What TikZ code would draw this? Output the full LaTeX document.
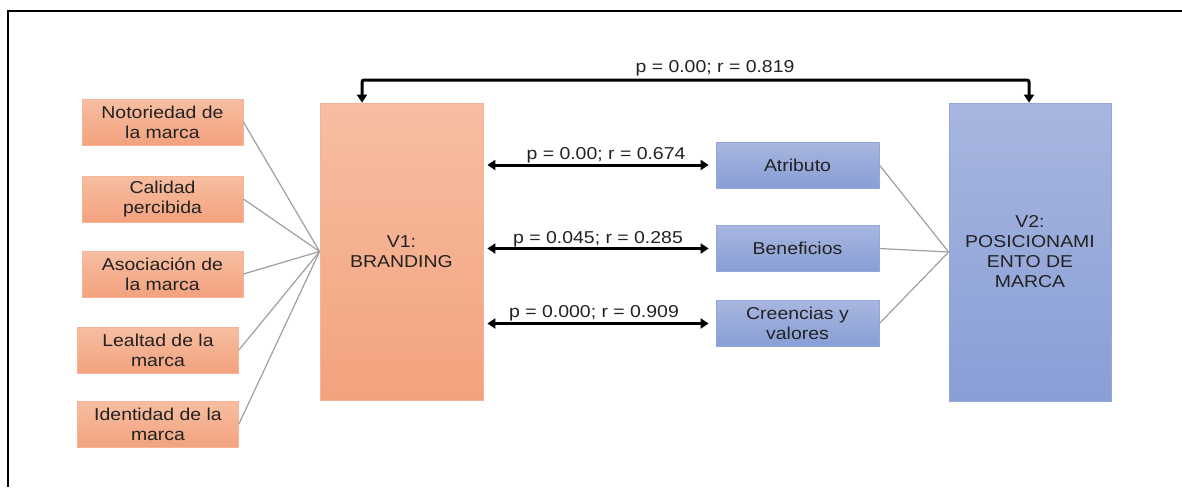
\documentclass[tikz,border=0pt]{standalone}
\usepackage{fontspec}
\setmainfont{Liberation Sans}[FakeStretch=1.13]
\usetikzlibrary{arrows.meta}

\definecolor{orTop}{HTML}{F7BEA2}
\definecolor{orBot}{HTML}{F3A27E}
\definecolor{orEdge}{HTML}{F5B595}
\definecolor{blTop}{HTML}{A8B6DF}
\definecolor{blBot}{HTML}{889ED6}
\definecolor{blEdge}{HTML}{93A7DA}
\definecolor{txt}{HTML}{222222}

\tikzset{
	box/.style={draw, line width=0.4pt, align=center, inner sep=0pt, text=txt,
		font=\fontsize{8.6}{10}\selectfont},
	factor/.style={box, draw=orEdge, top color=orTop, bottom color=orBot,
		minimum width=80.5pt, minimum height=23pt},
	dim/.style={box, draw=blEdge, top color=blTop, bottom color=blBot,
		minimum width=81.5pt, minimum height=23pt},
	bigor/.style={factor, minimum width=81.5pt, minimum height=148.5pt},
	bigbl/.style={dim, minimum width=81pt, minimum height=149pt},
	link/.style={draw=gray!75, line width=0.6pt},
	corr/.style={line width=1.5pt, {Triangle[length=4pt,width=5pt]}-{Triangle[length=4pt,width=5pt]}},
	corrlbl/.style={anchor=base, inner sep=0pt, text=txt, font=\fontsize{8.6}{10}\selectfont}
}

\begin{document}
\begin{tikzpicture}[x=0.5pt,y=-0.5pt]

	\useasboundingbox (0,0) rectangle (1182,487);
	\draw[line width=1pt] (8,487) -- (8,11) -- (1182,11);

	\node[factor] (noto) at (162.5,122) {Notoriedad de\\la marca};
	\node[factor] (cali) at (162.5,199) {Calidad\\percibida};
	\node[factor] (asoc) at (162.5,274) {Asociación de\\la marca};
	\node[factor] (leal) at (158,350) {Lealtad de la\\marca};
	\node[factor] (iden) at (158,424) {Identidad de la\\marca};

	\node[bigor] (v1) at (401.5,251.5) {V1:\\BRANDING};
	\node[bigbl] (v2) at (1030,252) {V2:\\POSICIONAMI\\ENTO DE\\MARCA};

	\node[dim] (atri) at (797.5,165) {Atributo};
	\node[dim] (bene) at (797.5,248.5) {Beneficios};
	\node[dim] (cree) at (797.5,323.5) {Creencias y\\valores};

	\draw[link] (noto.east) -- (v1.west);
	\draw[link] (cali.east) -- (v1.west);
	\draw[link] (asoc.east) -- (v1.west);
	\draw[link] (leal.east) -- (v1.west);
	\draw[link] (iden.east) -- (v1.west);

	\draw[link] (atri.east) -- (v2.west);
	\draw[link] (bene.east) -- (v2.west);
	\draw[link] (cree.east) -- (v2.west);

	\draw[corr, shorten <=2pt, shorten >=3.5pt] (v1.east |- atri.west) -- (atri.west);
	\draw[corr, shorten <=2pt, shorten >=3.5pt] (v1.east |- bene.west) -- (bene.west);
	\draw[corr, shorten <=2pt, shorten >=3.5pt] (v1.east |- cree.west) -- (cree.west);

	\node[corrlbl] (r1) at (606,159) {p = 0.00; r = 0.674};
	\node[corrlbl] (r2) at (598,243) {p = 0.045; r = 0.285};
	\node[corrlbl] (r3) at (594,317) {p = 0.000; r = 0.909};

	\coordinate (up1) at (362,80);
	\coordinate (up2) at (1029,80);
	\draw[corr, rounded corners=1pt] (v1.north -| up1) -- (up1) -- (up2) -- (v2.north -| up2);
	\node[corrlbl] (r0) at (715,72) {p = 0.00; r = 0.819};

\end{tikzpicture}
\end{document}
